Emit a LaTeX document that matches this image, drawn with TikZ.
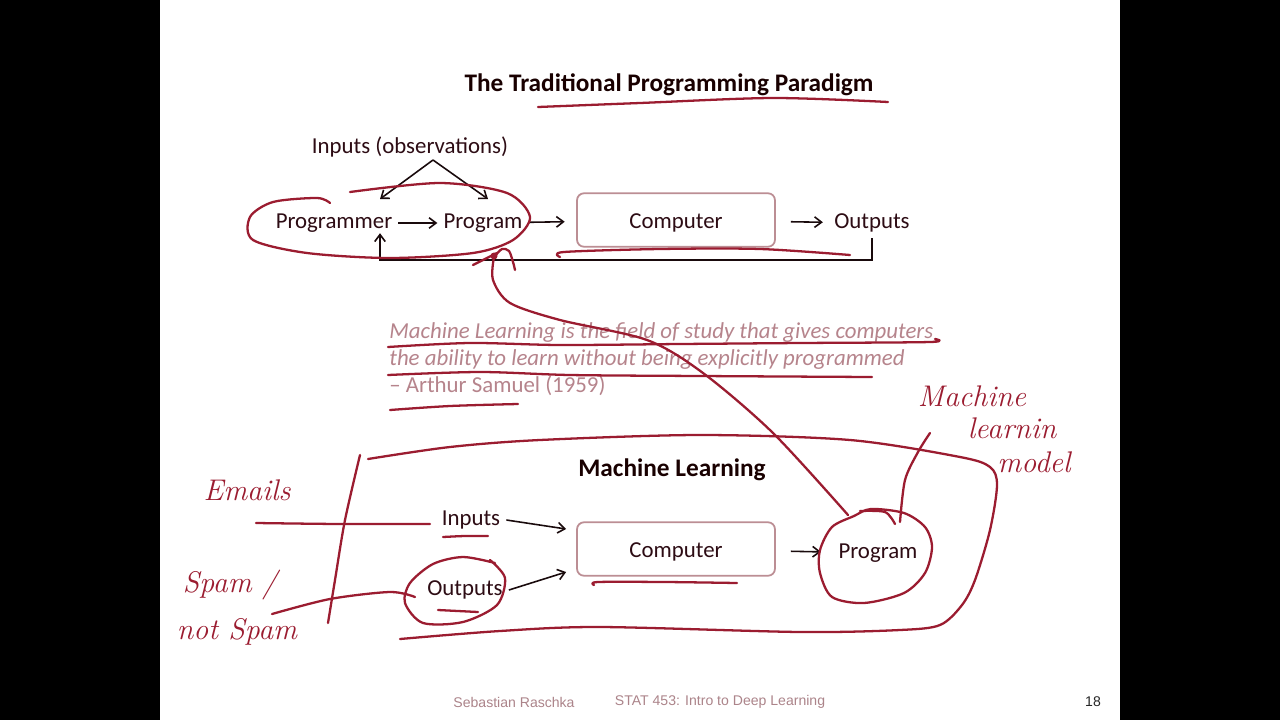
\documentclass[tikz,border=0pt]{standalone}
\usepackage{fontspec}
\newfontfamily\slidefont{Carlito}
\newfontfamily\footfont{Liberation Sans}
\usetikzlibrary{arrows.meta,calc}

\definecolor{ink}{RGB}{155,28,48}
\definecolor{bodytext}{RGB}{45,12,20}
\definecolor{boxline}{RGB}{188,142,148}
\definecolor{quotetext}{RGB}{182,132,140}
\definecolor{foottext}{RGB}{172,132,138}
\definecolor{connblack}{RGB}{25,10,12}

\tikzset{
  lbl/.style={font=\slidefont\fontsize{13}{15}\selectfont, text=bodytext, yshift=-0.06cm},
  heading/.style={font=\slidefont\bfseries\fontsize{14.4}{17}\selectfont, text=black!90!red, yshift=-0.06cm},
  stepbox/.style={font=\slidefont\fontsize{13}{15}\selectfont, text=bodytext,
    draw=boxline, line width=1pt, rounded corners=4pt,
    minimum width=3.96cm, minimum height=1.07cm, text height=10.2pt, text depth=0pt},
  quote/.style={font=\slidefont\itshape\fontsize{13}{15}\selectfont, text=quotetext, anchor=west,
    inner sep=0pt, yshift=-0.06cm},
  conn/.style={draw=connblack, line width=0.9pt, -{Straight Barb[length=4pt,width=6pt]}},
  pen/.style={draw=ink, line width=1.3pt, line cap=round, line join=round},
  hand/.style={font=\itshape\fontsize{17}{19}\selectfont, text=ink},
  foot/.style={font=\footfont\fontsize{8}{9}\selectfont, text=foottext}
}

\begin{document}
\begin{tikzpicture}[x=0.02cm, y=-0.02cm]
  % slide area between the dark side bars
  \fill[black] (0,0) rectangle (1280,720);
  \fill[white] (160,0) rectangle (1120,720);
  \useasboundingbox (0,0) rectangle (1280,720);

  % ---------- traditional programming ----------
  \node[heading] (title) at (669,82) {The Traditional Programming Paradigm};
  \node[lbl] (inobs) at (410,144) {Inputs (observations)};
  \node[lbl] (prgr) at (334,220) {Programmer};
  \node[lbl] (prog) at (483,220) {Program};
  \node[stepbox] (comp) at (676,220) {Computer};
  \node[lbl] (outs) at (872,220) {Outputs};

  \coordinate (split) at (433,160);
  \coordinate (toprgr) at (380,199);
  \coordinate (toprog) at (488,199);
  \draw[conn] (split) -- (toprgr);
  \draw[conn] (split) -- (toprog);
  \draw[conn] (prgr) -- (prog);
  \draw[conn, shorten >=6.5pt] (prog) -- (comp);
  \draw[conn, shorten <=8.5pt, shorten >=3pt] (comp) -- (outs);
  \coordinate (fb) at (380,260);
  \draw[conn, shorten >=-3pt] (outs.south) |- (fb) -- (fb |- prgr.south);

  % ---------- quotation ----------
  \node[quote] (q1) at (389,330) {Machine Learning is the field of study that gives computers};
  \node[quote] (q2) at (389,357) {the ability to learn without being explicitly programmed};
  \node[quote, font=\slidefont\fontsize{13}{15}\selectfont] (q3) at (389,383) {– Arthur Samuel (1959)};

  % ---------- machine learning ----------
  \node[heading] (mlt) at (672,467) {Machine Learning};
  \node[lbl] (min) at (471,517) {Inputs};
  \node[lbl] (mout) at (465,587) {Outputs};
  \node[stepbox] (comp2) at (676,549) {Computer};
  \node[lbl] (mprog) at (878,550) {Program};

  \draw[conn] (min.east) -- ($(comp2.west)+(-10,-20)$);
  \draw[conn] (mout.east) -- ($(comp2.west)+(-10,23)$);
  \draw[conn, shorten <=8.5pt, shorten >=6.5pt] (comp2) -- (mprog);

  % ---------- pen annotations ----------
  % title underline
  \draw[pen] plot[smooth] coordinates {(538,107) (640,103) (773,98) (888,102)};
  % loop round programmer and program
  \draw[pen] plot[smooth] coordinates {(350,192) (440,183) (507,193) (530,217) (513,240)
    (473,253) (390,258) (307,253) (253,240) (250,217) (273,202) (317,198) (330,203)};
  % underline below the first computer
  \draw[pen] plot[smooth] coordinates {(560,257) (564,252) (660,249) (760,249) (850,255)};
  % quotation underlines
  \draw[pen] plot[smooth] coordinates {(388,347) (470,343) (560,345) (680,344) (800,343) (930,342) (935,339)};
  \draw[pen] plot[smooth] coordinates {(388,375) (480,372) (570,375) (700,376) (872,377)};
  \draw[pen] plot[smooth] coordinates {(390,410) (450,406) (518,404)};
  % arrow from the learned program back to the program
  \draw[pen] plot[smooth] coordinates {(848,515) (773,433) (703,373) (647,340) (560,320)
    (510,303) (493,280) (494,257)};
  \draw[pen] (473,265) -- (497,253);
  \draw[pen] plot[smooth] coordinates {(495,256) (502,249) (509,251) (513,262) (515,270)};
  \fill[ink] (494,256) circle (3.5);
  % frame round the machine learning part
  \draw[pen] plot[smooth] coordinates {(368,459) (450,447) (540,440) (700,435) (850,440)
    (960,457) (990,467) (997,485) (990,530) (975,580) (962,605) (940,625) (900,630)
    (800,632) (600,627) (500,631) (400,639)};
  \draw[pen] plot[smooth] coordinates {(360,455) (345,520) (335,580) (328,623)};
  % emails and spam labels with their strokes
  \draw[pen] plot[smooth] coordinates {(256,523) (340,524) (430,524)};
  \draw[pen] plot[smooth] coordinates {(272,614) (330,599) (390,592) (415,597)};
  \draw[pen] plot[smooth] coordinates {(443,537) (465,536) (488,536)};
  \draw[pen] plot[smooth] coordinates {(490,560) (505,578) (497,605) (463,622) (423,623)
    (405,603) (410,583) (433,564) (463,557) (495,563)};
  \draw[pen] (438,610) -- (478,612);
  \draw[pen] plot[smooth] coordinates {(594,585) (598,582) (665,582) (737,583)};
  % circle round the learned program
  \draw[pen] plot[smooth cycle] coordinates {(854,516) (871,509) (904,513) (925,527)
    (932,547) (925,573) (904,593) (864,603) (832,597) (820,573) (820,550) (832,527)};
  \draw[pen] plot[smooth] coordinates {(860,511) (885,512) (895,524)};
  \draw[pen] plot[smooth] coordinates {(900,522) (905,480) (918,452) (930,433)};

  \node[hand] (hemails) at (247,490) {Emails};
  \node[hand] (hspam) at (230,585) {Spam /};
  \node[hand] (hnot) at (237,632) {not Spam};
  \node[hand] (hmach) at (972,396) {Machine};
  \node[hand] (hlearn) at (1012,428) {learnin};
  \node[hand] (hmodel) at (1034,462) {model};

  % ---------- footer ----------
  \node[foot] (fname) at (514,702) {Sebastian Raschka};
  \node[foot] (fcourse) at (720,702) {STAT 453: Intro to Deep Learning};
  \node[foot, text=black!85] (fpage) at (1093,702) {18};
\end{tikzpicture}
\end{document}
